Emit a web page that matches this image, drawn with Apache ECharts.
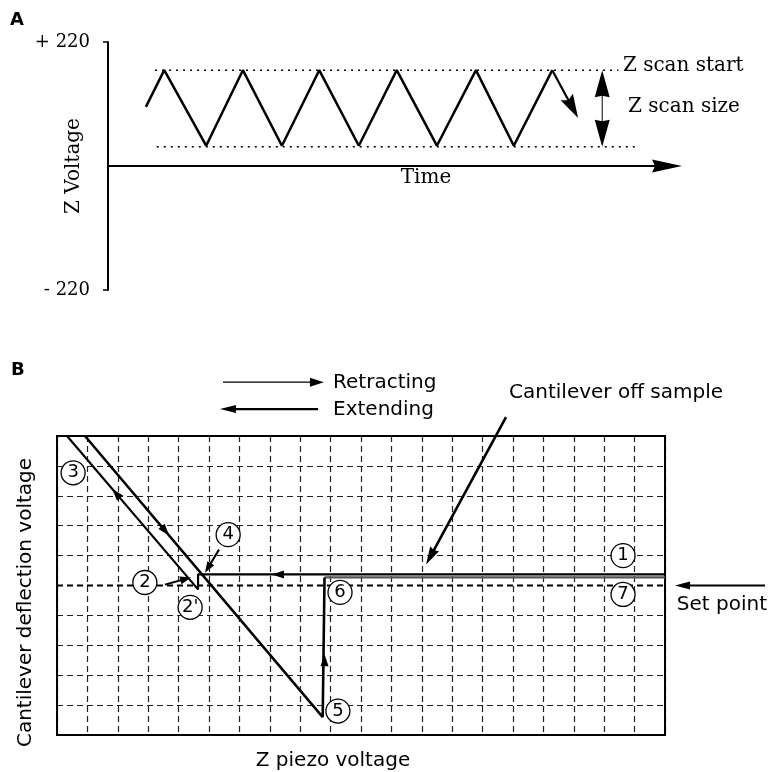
<!DOCTYPE html>
<html><head><meta charset="utf-8">
<script src="https://cdn.jsdelivr.net/npm/echarts@6/dist/echarts.min.js"></script>
<style>html,body{margin:0;padding:0;background:#fff}#c{width:773px;height:772px}</style>
</head><body><div id="c"></div>
<script>
// ---------- Panel A data ----------
const scanTime = [0.66, 0.98, 1.71, 2.35, 3.03, 3.68, 4.37, 5.03, 5.73, 6.41, 7.07, 7.74];
const scanVolt = [105, 170, 36, 170, 36, 170, 36, 170, 36, 170, 36, 170];
const zVoltTicks = [-220, 220];
const zScanStartLevel = 170;
const zScanEndLevel = 34;
const startLineSpan = [0.82, 8.89];
const endLineSpan = [0.85, 9.23];
const timeAxisSeg = [[0, 0, 10, 0]];
const turnArrowSeg = [[7.74, 170, 8.19, 85]];
const scanSizeSeg = [[8.61, 170, 8.61, 34]];
const annotAText = ['Z scan start', 'Z scan size'];
const annotAPos = [[8.97, 177], [9.06, 105]];
const timeText = ['Time'];
const timeTextPos = [[5.1, -21]];

// ---------- Panel B data ----------
const extendPath = [[20, 5.37], [4.64, 5.37], [4.64, 4.87], [0.33, 10]];
const retractPath = [[0.92, 10], [8.74, 0.6], [8.8, 0.62], [8.8, 5.27]];
const retractOffPath = [[8.8, 5.27], [20, 5.27]];
const setPointLevel = 5;
const pointNames = ['1', '2', "2'", '3', '4', '5', '6', '7'];
const pointPos = [[18.62, 6.0], [2.89, 5.1], [4.38, 4.27], [0.53, 8.77], [5.63, 6.7], [9.24, 0.8], [9.31, 4.77], [18.62, 4.7]];
const traceHeads = [[2.16, 7.82, 1.82, 8.23], [3.38, 7.05, 3.69, 6.67], [7.5, 5.37, 7.07, 5.37], [8.8, 2.3, 8.8, 2.7]];
const pointerSegs = [[3.55, 5.03, 4.41, 5.27], [5.33, 6.2, 4.87, 5.43]];
const offSampleSeg = [[14.77, 10.63, 12.14, 5.7]];
const setPointSeg = [[23.29, 5.0, 20.33, 5.0]];
const retractLegendSeg = [[5.46, 11.8, 8.78, 11.8]];
const extendLegendSeg = [[8.59, 10.9, 5.36, 10.9]];
const annotBText = ['Retracting', 'Extending', 'Cantilever off sample', 'Set point'];
const annotBPos = [[9.08, 11.77], [9.08, 10.87], [14.87, 11.43], [20.39, 4.37]];
const panelLetters = ['A', 'B'];

const SERIF = '"DejaVu Serif"';
const SANS = '"DejaVu Sans"';

function arrowSeries(id, xi, yi, segs, st) {
  return {
    type: 'custom', id: id, name: id, coordinateSystem: 'cartesian2d',
    xAxisIndex: xi, yAxisIndex: yi, clip: false, silent: true, z: st.z || 5,
    dimensions: ['x0', 'y0', 'x1', 'y1'], encode: { x: [0, 2], y: [1, 3] },
    data: segs,
    renderItem: function (params, api) {
      const a = api.coord([api.value(0), api.value(1)]);
      const b = api.coord([api.value(2), api.value(3)]);
      const dx = b[0] - a[0], dy = b[1] - a[1], len = Math.hypot(dx, dy) || 1;
      const ux = dx / len, uy = dy / len;
      const L = st.head, W = st.headW / 2, k = st.notch || 0;
      const col = st.color || '#000';
      const mk = function (t, sx, sy) {
        return { type: 'polygon', shape: { points: [
          [t[0], t[1]],
          [t[0] - sx * L - sy * W, t[1] - sy * L + sx * W],
          [t[0] - sx * L * (1 - k), t[1] - sy * L * (1 - k)],
          [t[0] - sx * L + sy * W, t[1] - sy * L - sx * W]] },
          style: { fill: col } };
      };
      const children = [];
      if (!st.noShaft) {
        const s0 = st.both ? [a[0] + ux * L * 0.8, a[1] + uy * L * 0.8] : a;
        const s1 = [b[0] - ux * L * 0.8, b[1] - uy * L * 0.8];
        children.push({ type: 'line', shape: { x1: s0[0], y1: s0[1], x2: s1[0], y2: s1[1] },
          style: { stroke: col, lineWidth: st.width } });
      }
      children.push(mk(b, ux, uy));
      if (st.both) children.push(mk(a, -ux, -uy));
      return { type: 'group', children: children };
    }
  };
}

function textSeries(id, xi, yi, pos, texts, size, family) {
  return {
    type: 'custom', id: id, name: id, coordinateSystem: 'cartesian2d',
    xAxisIndex: xi, yAxisIndex: yi, clip: false, silent: true, z: 6,
    data: pos,
    renderItem: function (params, api) {
      const p = api.coord([api.value(0), api.value(1)]);
      return { type: 'text', x: p[0], y: p[1],
        style: { text: texts[params.dataIndex], fill: '#000', fontSize: size, fontFamily: family, align: 'left', verticalAlign: 'middle' } };
    }
  };
}

function hLine(level, span) { return [[span[0], level], [span[1], level]]; }

const chart = echarts.init(document.getElementById('c'));
chart.setOption({
  animation: false,
  backgroundColor: '#fff',
  title: [
    { text: panelLetters[0], left: 10, top: 11, padding: 0, textStyle: { fontSize: 18, fontWeight: 'bold', fontFamily: SANS, color: '#000' } },
    { text: panelLetters[1], left: 11, top: 361, padding: 0, textStyle: { fontSize: 18, fontWeight: 'bold', fontFamily: SANS, color: '#000' } }
  ],
  grid: [
    { left: 108, top: 42, width: 574, height: 248, show: false },
    { left: 57, top: 436, width: 608, height: 300, show: true, borderColor: '#000', borderWidth: 2, backgroundColor: 'transparent', z: 3 }
  ],
  xAxis: [
    { gridIndex: 0, type: 'value', min: 0, max: 10, show: false },
    { gridIndex: 1, type: 'value', min: 0, max: 20, interval: 1,
      axisLine: { show: false }, axisTick: { show: false }, axisLabel: { show: false },
      splitLine: { show: true, lineStyle: { type: [6, 4], color: '#222', width: 1.2 } },
      name: 'Z piezo voltage', nameLocation: 'middle', nameGap: 16, nameMoveOverlap: false,
      nameTextStyle: { fontSize: 20, fontFamily: SANS, color: '#000', padding: [0, 56, 0, 0] } }
  ],
  yAxis: [
    { gridIndex: 0, type: 'value', min: -220, max: 220, interval: 220,
      axisLine: { show: true, onZero: false, lineStyle: { color: '#000', width: 2 } },
      axisTick: { show: true, length: 5, customValues: zVoltTicks, lineStyle: { color: '#000', width: 1.5 } },
      axisLabel: { show: true, customValues: zVoltTicks, margin: 18, color: '#000', fontSize: 18, fontFamily: SERIF,
        formatter: function (v) { return (v > 0 ? '+ ' : '- ') + Math.abs(v); } },
      splitLine: { show: false },
      name: 'Z Voltage', nameLocation: 'middle', nameGap: 24, nameMoveOverlap: false,
      nameTextStyle: { fontSize: 20, fontFamily: SERIF, color: '#000' } },
    { gridIndex: 1, type: 'value', min: 0, max: 10, interval: 1,
      axisLine: { show: false }, axisTick: { show: false }, axisLabel: { show: false },
      splitLine: { show: true, lineStyle: { type: [6, 4], color: '#222', width: 1.2 } },
      name: 'Cantilever deflection voltage', nameLocation: 'middle', nameGap: 21, nameMoveOverlap: false,
      nameTextStyle: { fontSize: 20, fontFamily: SANS, color: '#000', padding: [0, 34, 0, 0] } },
    { gridIndex: 0, type: 'value', min: -220, max: 220, interval: 220,
      axisLine: { show: false }, axisLabel: { show: false }, splitLine: { show: false },
      axisTick: { show: true, inside: true, length: 5, customValues: zVoltTicks, lineStyle: { color: '#000', width: 1.5 } } }
  ],
  series: [
    // Panel A
    { type: 'line', name: 'Z voltage', xAxisIndex: 0, yAxisIndex: 0, symbol: 'none', silent: true, z: 4,
      lineStyle: { color: '#000', width: 2.5 }, data: scanTime.map(function (t, i) { return [t, scanVolt[i]]; }) },
    { type: 'line', name: 'Z scan start', xAxisIndex: 0, yAxisIndex: 0, symbol: 'none', silent: true, z: 3,
      lineStyle: { color: '#000', width: 1.5, type: [2, 5] }, data: hLine(zScanStartLevel, startLineSpan) },
    { type: 'line', name: 'Z scan end', xAxisIndex: 0, yAxisIndex: 0, symbol: 'none', silent: true, z: 3,
      lineStyle: { color: '#000', width: 1.5, type: [2, 5] }, data: hLine(zScanEndLevel, endLineSpan) },
    arrowSeries('timeAxis', 0, 0, timeAxisSeg, { width: 2.2, head: 30, headW: 13, notch: 0.1 }),
    arrowSeries('turnArrow', 0, 0, turnArrowSeg, { width: 2.2, head: 24, headW: 14, notch: 0.15 }),
    arrowSeries('scanSize', 0, 0, scanSizeSeg, { width: 1, head: 27, headW: 15, both: true, notch: 0.05 }),
    textSeries('annotA', 0, 0, annotAPos, annotAText, 20, SERIF),
    textSeries('timeLabel', 0, 0, timeTextPos, timeText, 20, SERIF),
    // Panel B
    { type: 'line', name: 'Set point', xAxisIndex: 1, yAxisIndex: 1, symbol: 'none', silent: true, z: 3,
      lineStyle: { color: '#000', width: 2, type: [6, 4] }, data: hLine(setPointLevel, [0, 20]) },
    { type: 'line', name: 'Retract off', xAxisIndex: 1, yAxisIndex: 1, symbol: 'none', silent: true, z: 4,
      lineStyle: { color: '#555', width: 2.2 }, data: retractOffPath },
    { type: 'line', name: 'Extending', xAxisIndex: 1, yAxisIndex: 1, symbol: 'none', silent: true, z: 4,
      lineStyle: { color: '#000', width: 2.2 }, data: extendPath },
    { type: 'line', name: 'Retracting', xAxisIndex: 1, yAxisIndex: 1, symbol: 'none', silent: true, z: 4,
      lineStyle: { color: '#000', width: 2.6 }, data: retractPath },
    arrowSeries('traceHeads', 1, 1, traceHeads, { width: 0, head: 12, headW: 8, noShaft: true }),
    arrowSeries('pointers', 1, 1, pointerSegs, { width: 2, head: 11, headW: 8 }),
    arrowSeries('offSample', 1, 1, offSampleSeg, { width: 2.6, head: 18, headW: 10, notch: 0.1 }),
    arrowSeries('setPointArrow', 1, 1, setPointSeg, { width: 2, head: 15, headW: 8 }),
    arrowSeries('retractLegend', 1, 1, retractLegendSeg, { width: 1.2, head: 14, headW: 9 }),
    arrowSeries('extendLegend', 1, 1, extendLegendSeg, { width: 2.2, head: 16, headW: 8 }),
    textSeries('annotB', 1, 1, annotBPos, annotBText, 20, SANS),
    { type: 'scatter', name: 'points', xAxisIndex: 1, yAxisIndex: 1, symbol: 'circle', symbolSize: 24, z: 7, silent: true,
      itemStyle: { color: '#fff', borderColor: '#000', borderWidth: 1.3, opacity: 1 },
      label: { show: true, position: 'inside', formatter: function (p) { return p.name; }, color: '#000', fontSize: 18, fontFamily: SANS },
      data: pointNames.map(function (n, i) { return { name: n, value: pointPos[i] }; }) }
  ]
});
</script></body></html>
